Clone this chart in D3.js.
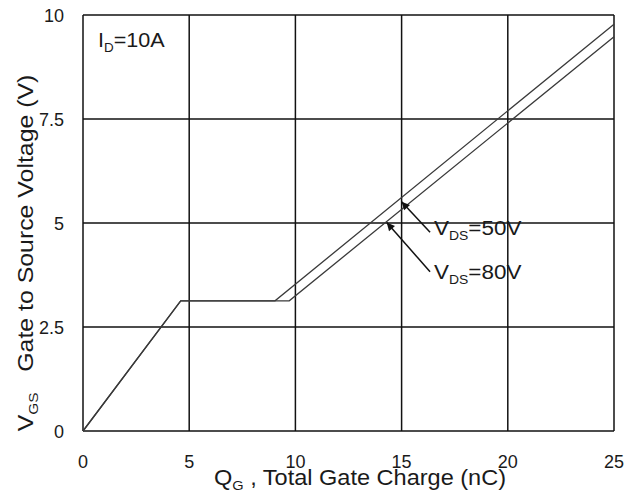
<!DOCTYPE html>
<html lang="en">
<head>
  <meta charset="utf-8">
  <script src="https://d3js.org/d3.v7.min.js"></script>
  <style>
    body, html {
      margin: 0;
      padding: 0;
      background: #fff;
    }
    text {
      font-family: "Liberation Sans", Arial, sans-serif;
      fill: #1a1a1a;
    }
    .grid line {
      stroke: #111;
      stroke-width: 1.5px;
    }
    .curve {
      fill: none;
      stroke: #3a3a3a;
      stroke-width: 1.3px;
    }
  </style>
</head>
<body>
<svg id="chart" width="638" height="495"></svg>

<script>
  // tick values
  var xTicks = [0, 5, 10, 15, 20, 25];
  var yTicks = [0, 2.5, 5, 7.5, 10];

  // gate charge curves
  var qg50 = [0, 4.6, 9.04, 25];
  var vgs50 = [0, 3.13, 3.13, 9.78];
  var qg80 = [0, 4.6, 9.71, 25];
  var vgs80 = [0, 3.13, 3.13, 9.48];

  // arrow annotations: [tail qg, tail v, tip qg, tip v]
  var arrow50 = [16.34, 4.78, 15.0, 5.51];
  var arrow80 = [16.34, 3.83, 14.3, 5.01];

  var svg = d3.select("#chart");

  var x = d3.scaleLinear().domain([0, 25]).range([83, 614]);
  var y = d3.scaleLinear().domain([0, 10]).range([431, 15]);

  // grid + frame
  var grid = svg.append("g").attr("class", "grid");
  grid.selectAll(".vx")
      .data(xTicks)
      .enter().append("line")
      .attr("x1", function(d) { return x(d); })
      .attr("x2", function(d) { return x(d); })
      .attr("y1", y(0))
      .attr("y2", y(10));
  grid.selectAll(".hy")
      .data(yTicks)
      .enter().append("line")
      .attr("y1", function(d) { return y(d); })
      .attr("y2", function(d) { return y(d); })
      .attr("x1", x(0))
      .attr("x2", x(25));

  // tick labels
  svg.selectAll(".xt")
      .data(xTicks)
      .enter().append("text")
      .attr("x", function(d) { return x(d); })
      .attr("y", 468)
      .attr("text-anchor", "middle")
      .style("font-size", "18px")
      .text(function(d) { return d; });

  svg.selectAll(".yt")
      .data(yTicks)
      .enter().append("text")
      .attr("x", 64)
      .attr("y", function(d) { return y(d) + 6.5; })
      .attr("text-anchor", "end")
      .style("font-size", "18px")
      .text(function(d) { return d; });

  // curves
  var line = d3.line()
      .x(function(d) { return x(d[0]); })
      .y(function(d) { return y(d[1]); });

  svg.append("path")
      .attr("class", "curve")
      .attr("d", line(d3.zip(qg50, vgs50)));
  svg.append("path")
      .attr("class", "curve")
      .attr("d", line(d3.zip(qg80, vgs80)));

  // arrows
  svg.append("defs").append("marker")
      .attr("id", "head")
      .attr("viewBox", "0 0 10 10")
      .attr("refX", 10)
      .attr("refY", 5)
      .attr("markerWidth", 11)
      .attr("markerHeight", 8)
      .attr("markerUnits", "userSpaceOnUse")
      .attr("orient", "auto")
      .append("path")
      .attr("d", "M0,0 L10,5 L0,10 z")
      .attr("fill", "#111");

  [arrow50, arrow80].forEach(function(a) {
    svg.append("line")
        .attr("x1", x(a[0])).attr("y1", y(a[1]))
        .attr("x2", x(a[2])).attr("y2", y(a[3]))
        .attr("stroke", "#111")
        .attr("stroke-width", 1.5)
        .attr("marker-end", "url(#head)");
  });

  // labels with subscripts (the original glyphs are a little wide, so stretch)
  function subLabel(transform, main, sub, rest, size) {
    var t = svg.append("text")
        .attr("transform", transform)
        .style("font-size", size + "px");
    t.append("tspan").text(main);
    t.append("tspan").attr("dy", size * 0.24).style("font-size", (size * 0.62) + "px").text(sub);
    t.append("tspan").attr("dy", -size * 0.24).text(rest);
    return t;
  }

  subLabel("translate(98,47) scale(1.03,1)", "I", "D", "=10A", 21);
  subLabel("translate(434,235) scale(1.07,1)", "V", "DS", "=50V", 21);
  subLabel("translate(434,279) scale(1.07,1)", "V", "DS", "=80V", 21);

  // axis titles
  subLabel("translate(360,485) scale(1.07,1)", "Q", "G", " , Total Gate Charge (nC)", 22)
      .attr("text-anchor", "middle");

  subLabel("translate(33,253) rotate(-90) scale(1.13,1)", "V", "GS", "\u00a0\u00a0 Gate to Source Voltage (V)", 22)
      .attr("text-anchor", "middle");
</script>
</body>
</html>
